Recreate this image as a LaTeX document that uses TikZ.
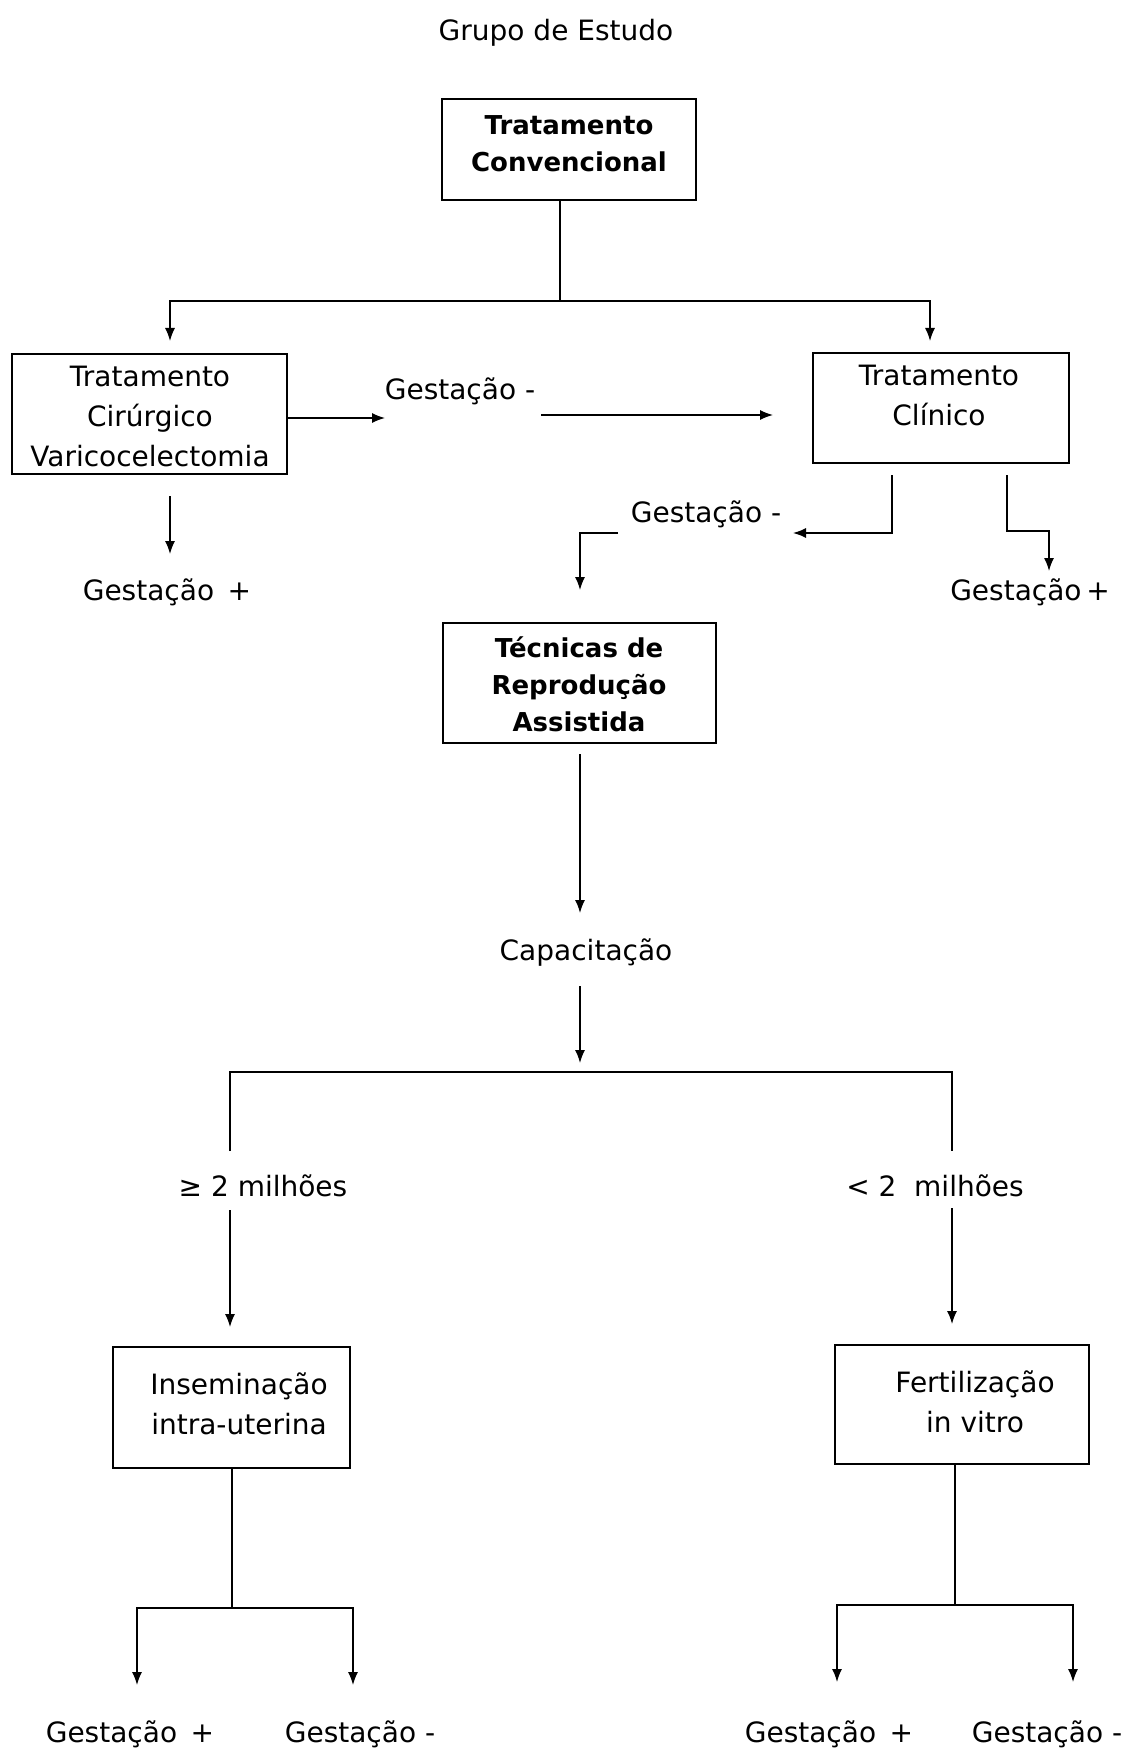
\documentclass[tikz,border=0pt]{standalone}
\usepackage{fontspec}
\setmainfont{DejaVu Sans}
\usetikzlibrary{arrows.meta}
\begin{document}
\begin{tikzpicture}[x=0.5pt,y=-0.5pt,
  box/.style={draw, line width=0.9pt, rectangle, inner sep=0pt},
  lbl/.style={font=\fontsize{14}{20}\selectfont, align=center, inner sep=0pt},
  blbl/.style={font=\fontsize{13}{18.5}\selectfont\bfseries, align=center, inner sep=0pt},
  conn/.style={line width=0.7pt},
  arr/.style={conn, -{Latex[length=6.5pt,width=5pt]}},
]
\useasboundingbox (0,0) rectangle (1128,1754);

% title
\node[lbl, anchor=base] (title) at (556,41) {Grupo de Estudo};

% boxes
\node[box, minimum width=127pt, minimum height=50.5pt] (b1) at (569,149.5) {};
\node[blbl] (t1) at (569,144) {Tratamento\\Convencional};

\node[box, minimum width=137.5pt, minimum height=60pt] (b2) at (149.5,414) {};
\node[lbl] (t2) at (150,416) {Tratamento\\Cirúrgico\\Varicocelectomia};

\node[box, minimum width=128pt, minimum height=55pt] (b3) at (941,408) {};
\node[lbl] (t3) at (939,395) {Tratamento\\Clínico};

\node[box, minimum width=136.5pt, minimum height=60pt] (b4) at (579.5,683) {};
\node[blbl] (t4) at (579,684) {Técnicas de\\Reprodução\\Assistida};

\node[box, minimum width=118.5pt, minimum height=60.5pt] (b5) at (231.5,1407.5) {};
\node[lbl] (t5) at (239,1404) {Inseminação\\intra-uterina};

\node[box, minimum width=127pt, minimum height=59.5pt] (b6) at (962,1404.5) {};
\node[lbl] (t6) at (975,1402) {Fertilização\\in vitro};

% labels
\node[lbl, anchor=base] (g1) at (460,400) {Gestação -};
\node[lbl, anchor=base] (gp1) at (167,600) {Gestação \,+};
\node[lbl, anchor=base] (g2) at (706,522) {Gestação -};
\node[lbl, anchor=base] (gp2) at (1030,600) {Gestação\,+};
\node[lbl, anchor=base] (cap) at (586,960) {Capacitação};
\node[lbl, anchor=base] (ge) at (263,1196) {≥ 2 milhões};
\node[lbl, anchor=base] (lt) at (935,1196) {<\ 2\ \ milhões};
\node[lbl, anchor=base] (gp3) at (130,1742) {Gestação \,+};
\node[lbl, anchor=base] (gm3) at (360,1742) {Gestação -};
\node[lbl, anchor=base] (gp4) at (829,1742) {Gestação \,+};
\node[lbl, anchor=base] (gm4) at (1047,1742) {Gestação -};

% coordinates
\coordinate (j1) at (560,301);
\coordinate (a2) at (170,341);
\coordinate (a3) at (930,341);
\coordinate (c0) at (287,418);
\coordinate (c1) at (385,418);
\coordinate (c2) at (541,415);
\coordinate (c3) at (773,415);
\coordinate (d0) at (170,496);
\coordinate (d1) at (170,554);
\coordinate (e0) at (892,475);
\coordinate (e1) at (793,533);
\coordinate (e2) at (618,533);
\coordinate (e3) at (580,590);
\coordinate (f0) at (1007,475);
\coordinate (f1) at (1049,531);
\coordinate (f2) at (1049,571);
\coordinate (h0) at (580,754);
\coordinate (h1) at (580,913);
\coordinate (h2) at (580,986);
\coordinate (h3) at (580,1063);
\coordinate (k1) at (230,1151);
\coordinate (k2) at (230,1072);
\coordinate (k3) at (952,1072);
\coordinate (k4) at (952,1151);
\coordinate (m0) at (230,1210);
\coordinate (m1) at (230,1327);
\coordinate (n0) at (952,1208);
\coordinate (n1) at (952,1324);
\coordinate (p0) at (232,1468);
\coordinate (p1) at (232,1608);
\coordinate (p2) at (137,1685);
\coordinate (p3) at (353,1685);
\coordinate (q0) at (955,1464);
\coordinate (q1) at (955,1605);
\coordinate (q2) at (837,1682);
\coordinate (q3) at (1073,1682);

% connectors
\draw[conn] (b1.south -| j1) -- (j1);
\draw[arr] (j1) -| (a2);
\draw[arr] (j1) -| (a3);
\draw[arr] (c0) -- (c1);
\draw[arr] (c2) -- (c3);
\draw[arr] (d0) -- (d1);
\draw[arr] (e0) |- (e1);
\draw[arr] (e2) -| (e3);
\draw[arr] (f0) |- (f1) -- (f2);
\draw[arr] (h0) -- (h1);
\draw[arr] (h2) -- (h3);
\draw[conn] (k1) -- (k2) -- (k3) -- (k4);
\draw[arr] (m0) -- (m1);
\draw[arr] (n0) -- (n1);
\draw[conn] (p0) -- (p1);
\draw[arr] (p1) -| (p2);
\draw[arr] (p1) -| (p3);
\draw[conn] (q0) -- (q1);
\draw[arr] (q1) -| (q2);
\draw[arr] (q1) -| (q3);
\end{tikzpicture}
\end{document}
